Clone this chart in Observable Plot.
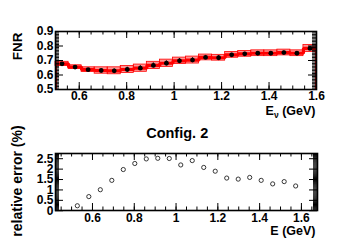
<!DOCTYPE html>
<html><head><meta charset="utf-8">
<script src="https://cdn.jsdelivr.net/npm/d3@7"></script>
<script src="https://cdn.jsdelivr.net/npm/@observablehq/plot@0.6"></script>
<style>
body{margin:0;background:#fff;}
#wrap{position:relative;width:355px;height:242px;overflow:hidden;background:#fff;}
#top,#bot{position:absolute;left:0;}
#top{top:0px} #bot{top:120px}
svg{overflow:visible}
</style></head><body><div id="wrap"><div id="top"></div><div id="bot"></div></div>
<script>
// ---- data ----
const energy = [0.5275,0.5825,0.6375,0.6925,0.7475,0.8025,0.8575,0.9125,0.9675,1.0225,1.0775,1.1325,1.1875,1.2425,1.2975,1.3525,1.4075,1.4625,1.5175,1.5725];
const binHalfWidth = 0.0275;
const fnr     = [0.677,0.655,0.637,0.631,0.629,0.638,0.647,0.666,0.681,0.698,0.703,0.721,0.719,0.739,0.746,0.750,0.750,0.755,0.750,0.783];
const statErr = [0.010,0.008,0.008,0.010,0.012,0.015,0.016,0.016,0.016,0.015,0.016,0.014,0.013,0.011,0.011,0.011,0.011,0.010,0.010,0.010];
const sysErr  = [0.014,0.012,0.016,0.022,0.024,0.024,0.025,0.025,0.025,0.022,0.024,0.020,0.020,0.020,0.020,0.020,0.020,0.020,0.020,0.024];
const relErr  = [0.24,0.68,1.01,1.46,1.98,2.27,2.49,2.52,2.51,2.20,2.41,2.08,1.90,1.57,1.52,1.60,1.46,1.29,1.40,1.19];

const topXLabels = [0.6,0.8,1,1.2,1.4,1.6];
const topYLabels = [0.5,0.6,0.7,0.8,0.9];
const botXLabels = [0.6,0.8,1,1.2,1.4,1.6];
const botYLabels = [0,0.5,1,1.5,2,2.5];

const topXDomain = [0.5,1.6], topYDomain = [0.5,0.9];
const botXDomain = [0.423,1.677], botYDomain = [0.012,2.75];

const topYTitle = "FNR", topXTitle = "E\u03bd (GeV)";
const botYTitle = "relative error (%)", botXTitle = "E (GeV)", botTitle = "Config. 2";

// ---- helpers ----
const fontFamily = '"Liberation Sans", Arial, Helvetica, sans-serif';
const W = 355;
const r3 = v => Math.round(v*1000)/1000;
const rangeTicks = (a,b,s) => d3.range(Math.round(a/s), Math.round(b/s)+1).map(k=>r3(k*s));

function frameTicks(xMinor, xMajor, yMinor, yMajor, fw, fh) {
  const m = [];
  const tx = (vals,len)=>{ m.push(Plot.tickX(vals,{x:d=>d, insetTop: fh-len, stroke:"black", strokeWidth:1}));
                           m.push(Plot.tickX(vals,{x:d=>d, insetBottom: fh-len, stroke:"black", strokeWidth:1})); };
  const ty = (vals,len)=>{ m.push(Plot.tickY(vals,{y:d=>d, insetRight: fw-len, stroke:"black", strokeWidth:1}));
                           m.push(Plot.tickY(vals,{y:d=>d, insetLeft: fw-len, stroke:"black", strokeWidth:1})); };
  tx(xMinor,3.5); tx(xMajor,7); ty(yMinor,4); ty(yMajor,8);
  return m;
}

// ---- top plot ----
const rows = energy.map((e,i)=>({e, v:fnr[i], st:statErr[i], sy:sysErr[i]}));
const stepPts = [{x: energy[0]-binHalfWidth, y: 0}];
energy.forEach((e,i)=>{ stepPts.push({x:e-binHalfWidth, y:fnr[i]}, {x:e+binHalfWidth, y:fnr[i]}); });
stepPts.push({x: energy[energy.length-1]+binHalfWidth, y: 0});

const tM = {l:55, r:39, t:31, b:31}, tH = 120;
const tfw = W - tM.l - tM.r, tfh = tH - tM.t - tM.b;
const topPlot = Plot.plot({
  width: W, height: tH,
  marginLeft: tM.l, marginRight: tM.r, marginTop: tM.t, marginBottom: tM.b,
  style: {fontFamily, fontWeight: "bold", fontSize: "12px", background: "white", color: "black"},
  x: {domain: topXDomain},
  y: {domain: topYDomain},
  marks: [
    Plot.rect(rows, {x1: d=>d.e-binHalfWidth, x2: d=>d.e+binHalfWidth, y1: d=>d.v-d.sy, y2: d=>d.v+d.sy,
                     fill: "red", fillOpacity: 0.42, stroke: "red", strokeWidth: 0.8}),
    Plot.line(stepPts, {x: "x", y: "y", stroke: "red", strokeWidth: 3.2, clip: true, strokeLinejoin: "miter"}),
    Plot.ruleX(rows, {x: "e", y1: d=>d.v-d.st, y2: d=>d.v+d.st, stroke: "black", strokeWidth: 1.2}),
    Plot.dot(rows, {x: "e", y: "v", r: 2.4, fill: "black"}),
    ...frameTicks(rangeTicks(0.5,1.6,0.05), topXLabels, rangeTicks(0.5,0.9,0.01), topYLabels, tfw, tfh),
    Plot.frame({stroke: "black", strokeWidth: 1.6}),
    Plot.axisX(topXLabels, {tickSize: 0, tickPadding: 2, label: null, tickFormat: d=>String(d), fontSize: 12, fontWeight: "bold"}),
    Plot.axisY(topYLabels, {tickSize: 0, tickPadding: 2, label: null, tickFormat: d=>String(d), fontSize: 12, fontWeight: "bold"}),
    Plot.text([topYTitle], {frameAnchor: "top-left", dx: -38, dy: 1, rotate: -90, textAnchor: "end", lineAnchor: "middle", fontSize: 13.5, fontWeight: "bold"}),
    Plot.text([topXTitle], {frameAnchor: "bottom-right", dx: -1, dy: 25, textAnchor: "end", lineAnchor: "bottom", fontSize: 12.5, fontWeight: "bold"})
  ]
});
document.getElementById("top").appendChild(topPlot);
d3.select(topPlot).selectAll("text").filter(function(){ return this.textContent === topXTitle; }).each(function(){
  const t = d3.select(this); t.text(null);
  t.append("tspan").text("E");
  t.append("tspan").attr("dy", 3).attr("font-size", 8.5).text("\u03bd");
  t.append("tspan").attr("dy", -3).text(" (GeV)");
});

// ---- bottom plot ----
const relRows = energy.map((e,i)=>({e, r: relErr[i]}));
const bM = {l:55, r:38, t:33, b:32}, bH = 122;
const bfw = W - bM.l - bM.r, bfh = bH - bM.t - bM.b;
const botPlot = Plot.plot({
  width: W, height: bH,
  marginLeft: bM.l, marginRight: bM.r, marginTop: bM.t, marginBottom: bM.b,
  style: {fontFamily, fontWeight: "bold", fontSize: "12px", background: "white", color: "black"},
  x: {domain: botXDomain},
  y: {domain: botYDomain},
  marks: [
    ...frameTicks(rangeTicks(0.45,1.65,0.05), botXLabels, rangeTicks(0.05,2.75,0.05), botYLabels, bfw, bfh),
    Plot.dot(relRows, {x: "e", y: "r", r: 2.1, stroke: "#222", strokeWidth: 0.9, fill: "none"}),
    Plot.frame({stroke: "black", strokeWidth: 1.6}),
    Plot.axisX(botXLabels, {tickSize: 0, tickPadding: 3, label: null, tickFormat: d=>String(d), fontSize: 12, fontWeight: "bold"}),
    Plot.axisY(botYLabels, {tickSize: 0, tickPadding: 2, label: null, tickFormat: d=>String(d), fontSize: 12, fontWeight: "bold"}),
    Plot.text([botYTitle], {frameAnchor: "left", dx: -37.5, dy: -1, rotate: -90, textAnchor: "middle", lineAnchor: "middle", fontSize: 14, fontWeight: "bold"}),
    Plot.text([botXTitle], {frameAnchor: "bottom-right", dx: -2, dy: 24, textAnchor: "end", lineAnchor: "bottom", fontSize: 12.5, fontWeight: "bold"}),
    Plot.text([botTitle], {frameAnchor: "top", dx: -9.3, dy: -15.5, textAnchor: "middle", lineAnchor: "bottom", fontSize: 14.5, fontWeight: "bold"})
  ]
});
document.getElementById("bot").appendChild(botPlot);
</script></body></html>
